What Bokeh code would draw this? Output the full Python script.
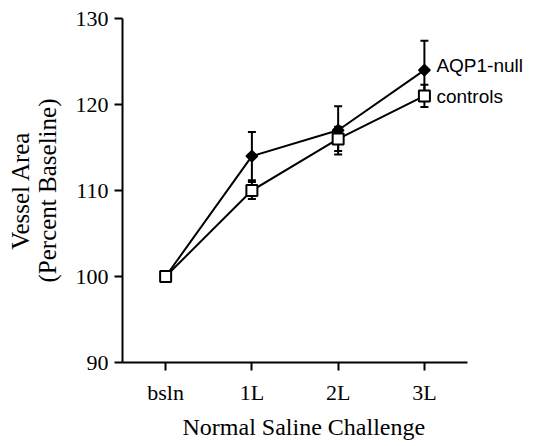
import numpy as np
from bokeh.plotting import figure
from bokeh.models import Range1d, FixedTicker, Label, Whisker, ColumnDataSource, Title
from bokeh.embed import file_html
from bokeh.resources import INLINE

categories = ["bsln", "1L", "2L", "3L"]
null_values = [100, 114, 117, 124]
null_err = [0, 2.8, 2.8, 3.4]
ctrl_values = [100, 110, 116, 121]
ctrl_err = [0, 1.0, 1.4, 1.3]
series_names = ["AQP1-null", "controls"]
y_ticks = [90, 100, 110, 120, 130]

x = list(range(len(categories)))

p = figure(width=525, height=446, output_backend="svg", toolbar_location=None,
           x_range=Range1d(-0.5, 4.172), y_range=Range1d(90, 130),
           min_border_left=122, min_border_top=18, min_border_bottom=84,
           min_border_right=0)
p.outline_line_color = None
p.grid.visible = False
p.background_fill_color = "white"
p.border_fill_color = "white"

serif = "Liberation Serif"

p.xaxis.ticker = FixedTicker(ticks=x)
p.xaxis.major_label_overrides = {i: c for i, c in enumerate(categories)}
p.xaxis.bounds = (-0.5, 3.5)
p.yaxis.ticker = FixedTicker(ticks=y_ticks)
p.yaxis.bounds = (90, 130)
for ax in (p.xaxis[0], p.yaxis[0]):
    ax.axis_line_width = 2
    ax.axis_line_color = "black"
    ax.major_tick_line_width = 2
    ax.major_tick_line_color = "black"
    ax.major_tick_in = 0
    ax.major_tick_out = 8
    ax.minor_tick_line_color = None
    ax.major_label_text_font = serif
    ax.major_label_text_font_size = "22px"
    ax.major_label_text_color = "black"
    ax.axis_label_text_font = serif
    ax.axis_label_text_font_style = "normal"
    ax.axis_label_text_font_size = "25px"
    ax.axis_label_text_color = "black"
p.xaxis.major_label_standoff = 9
p.yaxis.major_label_standoff = 6
p.yaxis.axis_label = "Vessel Area\n(Percent Baseline)"
p.yaxis.axis_label_standoff = 12
p.yaxis.axis_label_text_line_height = 1.0

# lines
p.line(x, null_values, line_color="black", line_width=2)
p.line(x, ctrl_values, line_color="black", line_width=2)

# error bars
nsrc = ColumnDataSource(dict(x=x, lo=[v - e for v, e in zip(null_values, null_err)],
                             hi=[v + e for v, e in zip(null_values, null_err)]))
csrc = ColumnDataSource(dict(x=x, lo=[v - e for v, e in zip(ctrl_values, ctrl_err)],
                             hi=[v + e for v, e in zip(ctrl_values, ctrl_err)]))
for src in (nsrc, csrc):
    w = Whisker(base="x", lower="lo", upper="hi", source=src,
                line_color="black", line_width=2)
    w.upper_head.size = 8
    w.lower_head.size = 8
    w.upper_head.line_width = 2
    w.lower_head.line_width = 2
    p.add_layout(w)

# markers
p.scatter(x, null_values, marker="square", angle=np.pi / 4, size=8,
          fill_color="black", line_color="black", line_width=1.5)
p.scatter(x, ctrl_values, marker="square", size=11,
          fill_color="white", line_color="black", line_width=2)

# series labels at last point
for name, vals, dy in ((series_names[0], null_values, 5), (series_names[1], ctrl_values, -1)):
    p.add_layout(Label(x=x[-1], y=vals[-1], x_offset=12, y_offset=dy, text=name,
                       text_font="Liberation Sans", text_font_size="19px",
                       text_baseline="middle", text_color="black"))

# x axis title
t = Title(text="Normal Saline Challenge", align="left", offset=60,
          text_font=serif, text_font_size="24px", text_font_style="normal",
          text_color="black")
if "standoff" in Title.properties():
    t.standoff = 9
p.add_layout(t, "below")

open("out.html", "w").write(file_html(p, INLINE))
